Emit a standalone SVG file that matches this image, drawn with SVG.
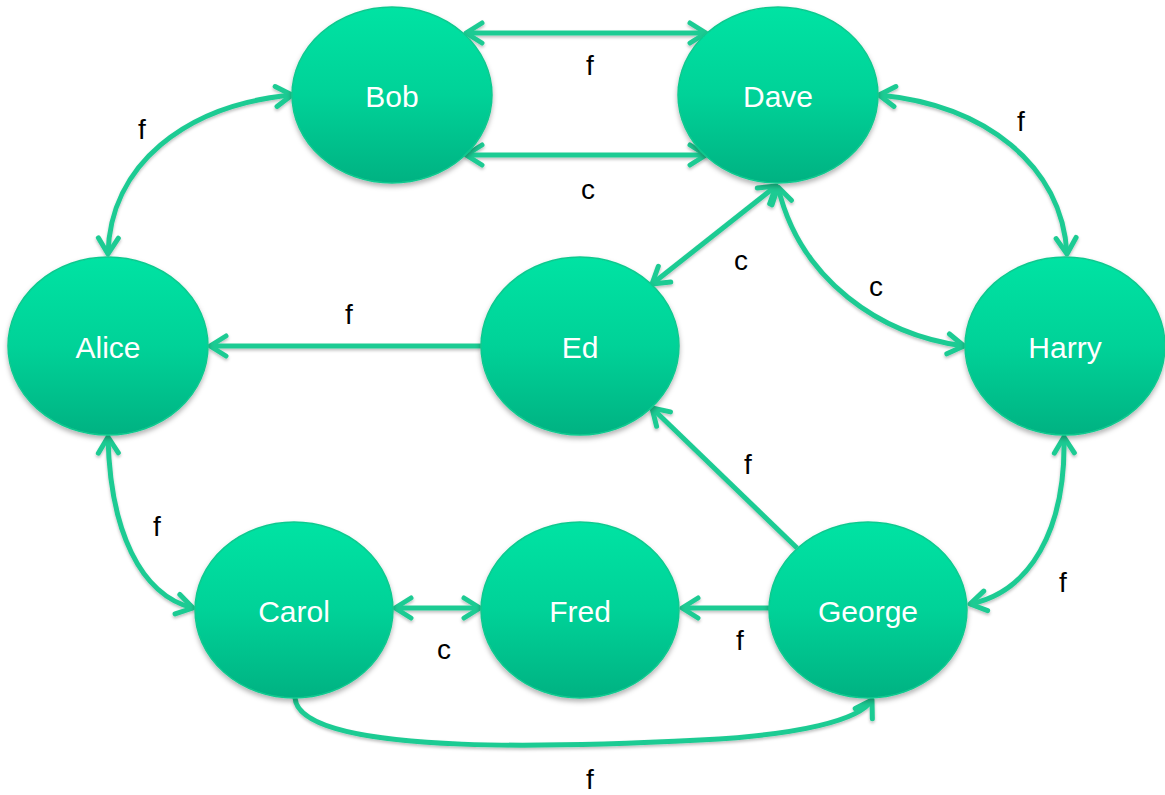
<svg xmlns="http://www.w3.org/2000/svg" width="1165" height="795" viewBox="0 0 1165 795">
<defs>
<linearGradient id="g" x1="0" y1="0" x2="0" y2="1">
<stop offset="0" stop-color="#02E3A3"/>
<stop offset="0.5" stop-color="#01D298"/>
<stop offset="1" stop-color="#02B282"/>
</linearGradient>
<filter id="sh" x="-20%" y="-20%" width="140%" height="140%">
<feDropShadow dx="0" dy="3" stdDeviation="2.5" flood-color="#000" flood-opacity="0.3"/>
</filter>
<filter id="lsh" x="-10%" y="-10%" width="120%" height="120%">
<feDropShadow dx="0" dy="2" stdDeviation="1.5" flood-color="#000" flood-opacity="0.25"/>
</filter>
<marker id="ah" viewBox="0 0 22 26" refX="19" refY="13" markerWidth="22" markerHeight="26" markerUnits="userSpaceOnUse" orient="auto-start-reverse">
<path d="M3,3 L19,13 L3,23" fill="none" stroke="#1FCB93" stroke-width="5" stroke-linecap="round" stroke-linejoin="round"/>
</marker>
</defs>
<style>
.node ellipse{fill:url(#g);stroke:#10C98F;stroke-width:1.5;filter:url(#sh)}
.node text{font-family:"Liberation Sans",Arial,sans-serif;font-size:30px;fill:#fff;text-anchor:middle;dominant-baseline:central}
.edge{fill:none;stroke:#1FCB93;stroke-width:5}
.lbl{font-family:"Liberation Sans",Arial,sans-serif;font-size:28px;fill:#000;text-anchor:middle}
</style>
<rect width="1165" height="795" fill="#fff"/>
<g id="connectors" filter="url(#lsh)">
<path class="edge" d="M466,33 L706,33" marker-start="url(#ah)" marker-end="url(#ah)"/>
<path class="edge" d="M466,155 L706,155" marker-start="url(#ah)" marker-end="url(#ah)"/>
<path class="edge" d="M108,254 C110,165 185,105 292,95" marker-start="url(#ah)" marker-end="url(#ah)"/>
<path class="edge" d="M879,95 C985,105 1062,165 1067,254" marker-start="url(#ah)" marker-end="url(#ah)"/>
<path class="edge" d="M481,346 L210,346" marker-end="url(#ah)"/>
<path class="edge" d="M652,284 L776,186" marker-start="url(#ah)" marker-end="url(#ah)"/>
<path class="edge" d="M778,187 C800,280 880,335 964,346" marker-start="url(#ah)" marker-end="url(#ah)"/>
<path class="edge" d="M108,437 C110,530 140,595 193,608" marker-start="url(#ah)" marker-end="url(#ah)"/>
<path class="edge" d="M1064,437 C1066,530 1030,592 970,604" marker-start="url(#ah)" marker-end="url(#ah)"/>
<path class="edge" d="M797,548 L652,408" marker-end="url(#ah)"/>
<path class="edge" d="M395,608 L480,608" marker-start="url(#ah)" marker-end="url(#ah)"/>
<path class="edge" d="M769,608 L682,608" marker-end="url(#ah)"/>
<path class="edge" d="M295,698 C300,760 600,745 700,740 C800,735 860,720 872,700" marker-end="url(#ah)"/>
</g>
<g id="labels">
<text class="lbl" x="590" y="75">f</text>
<text class="lbl" x="588" y="199">c</text>
<text class="lbl" x="142" y="139">f</text>
<text class="lbl" x="1021" y="131">f</text>
<text class="lbl" x="349" y="324">f</text>
<text class="lbl" x="741" y="270">c</text>
<text class="lbl" x="876" y="296">c</text>
<text class="lbl" x="157" y="536">f</text>
<text class="lbl" x="1063" y="592">f</text>
<text class="lbl" x="748" y="474">f</text>
<text class="lbl" x="444" y="659">c</text>
<text class="lbl" x="740" y="650">f</text>
<text class="lbl" x="590" y="789">f</text>
</g>
<g id="node-bob" class="node"><ellipse cx="392" cy="95" rx="100" ry="88"/><text x="392" y="96">Bob</text></g>
<g id="node-dave" class="node"><ellipse cx="778" cy="95" rx="100" ry="88"/><text x="778" y="96">Dave</text></g>
<g id="node-alice" class="node"><ellipse cx="108" cy="346" rx="100" ry="89"/><text x="108" y="347">Alice</text></g>
<g id="node-ed" class="node"><ellipse cx="580" cy="346" rx="99" ry="89"/><text x="580" y="347">Ed</text></g>
<g id="node-harry" class="node"><ellipse cx="1065" cy="346" rx="100" ry="89"/><text x="1065" y="347">Harry</text></g>
<g id="node-carol" class="node"><ellipse cx="294" cy="610" rx="99" ry="88"/><text x="294" y="611">Carol</text></g>
<g id="node-fred" class="node"><ellipse cx="580" cy="610" rx="99" ry="88"/><text x="580" y="611">Fred</text></g>
<g id="node-george" class="node"><ellipse cx="868" cy="610" rx="99" ry="88"/><text x="868" y="611">George</text></g>
</svg>
